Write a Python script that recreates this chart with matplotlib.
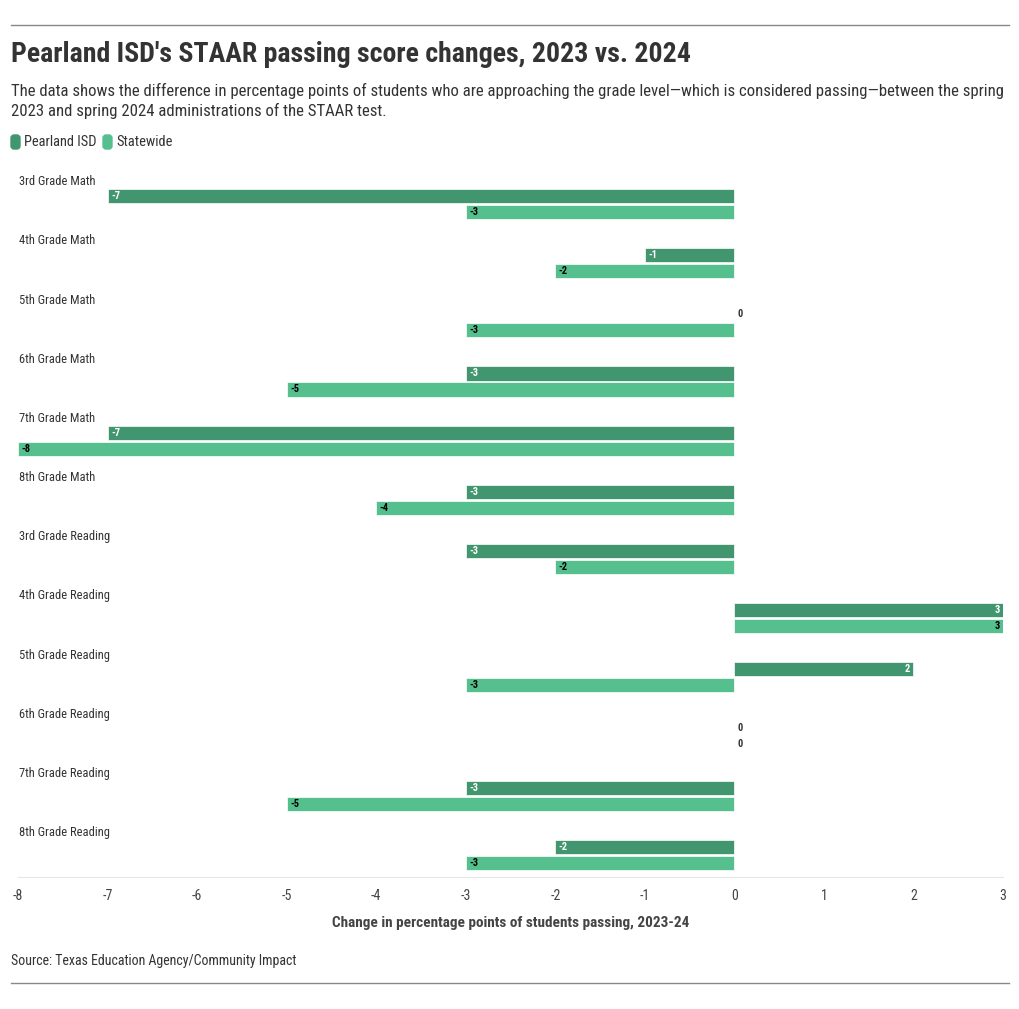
import matplotlib
matplotlib.use("Agg")
import matplotlib.pyplot as plt
from matplotlib import font_manager
from matplotlib.patches import FancyBboxPatch
import numpy as np

# ── Data ────────────────────────────────────────────────────────────────────────
categories = ["3rd Grade Math", "4th Grade Math", "5th Grade Math", "6th Grade Math",
              "7th Grade Math", "8th Grade Math", "3rd Grade Reading", "4th Grade Reading",
              "5th Grade Reading", "6th Grade Reading", "7th Grade Reading", "8th Grade Reading"]
pearland = [-7, -1, 0, -3, -7, -3, -3, 3, 2, 0, -3, -2]
statewide = [-3, -2, -3, -5, -8, -4, -2, 3, -3, 0, -5, -3]
x_ticks = [-8, -7, -6, -5, -4, -3, -2, -1, 0, 1, 2, 3]

DARK = "#41966f"
LIGHT = "#55c08e"
TXT = "#333333"

# ── Font pick ───────────────────────────────────────────────────────────────────
installed = {f.name for f in font_manager.fontManager.ttflist}
for cand in ["Roboto Condensed", "Liberation Sans Narrow", "Roboto"]:
    if cand in installed:
        FONT = cand
        break
else:
    FONT = "DejaVu Sans"
plt.rcParams["font.family"] = [FONT, "DejaVu Sans"]

fig = plt.figure(figsize=(10.2, 10.09), dpi=100)
W, H = 1020, 1009

def fy(py):
    return 1 - py / H

# rules
fig.add_artist(plt.Line2D([11 / W, 1009 / W], [fy(25), fy(25)], color="#888888", lw=1))
fig.add_artist(plt.Line2D([11 / W, 1009 / W], [fy(983), fy(983)], color="#888888", lw=1))

fig.text(11 / W, fy(55), "Pearland ISD's STAAR passing score changes, 2023 vs. 2024",
         fontsize=20.1, fontweight="bold", color=TXT, va="center", ha="left")
fig.text(11 / W, fy(101),
         "The data shows the difference in percentage points of students who are approaching the grade level\u2014which is considered passing\u2014between the spring\n2023 and spring 2024 administrations of the STAAR test.",
         fontsize=12.1, color=TXT, va="center", ha="left", linespacing=1.35)

# legend
for x0, label, col in [(11, "Pearland ISD", DARK), (103, "Statewide", LIGHT)]:
    fig.add_artist(FancyBboxPatch((x0 / W, fy(149)), 9 / W, 14 / H,
                                  boxstyle="round,pad=0,rounding_size=0.003",
                                  transform=fig.transFigure, color=col))
    fig.text((x0 + 13) / W, fy(142), label, fontsize=10.4, color=TXT, va="center", ha="left")

# ── Axes ────────────────────────────────────────────────────────────────────────
ax = fig.add_axes([18 / W, fy(877), (1003 - 18) / W, (877 - 167) / H])
n = len(categories)
y = np.arange(n)
h = 0.24
off1, off2 = 0.49, 0.76
ax.barh(y + off1, pearland, height=h, color=DARK, edgecolor="white", linewidth=0.5)
ax.barh(y + off2, statewide, height=h, color=LIGHT, edgecolor="white", linewidth=0.5)

for i in range(n):
    ax.text(0.001, i + 0.25, categories[i], transform=ax.get_yaxis_transform(),
            fontsize=9, color=TXT, va="center", ha="left")
    for vals, off, tcol in [(pearland, off1, "white"), (statewide, off2, "black")]:
        v = vals[i]
        if v < 0:
            ax.text(v + 0.04, i + off, str(v), fontsize=7.5, fontweight="bold",
                    color=tcol, va="center", ha="left")
        elif v > 0:
            ax.text(v - 0.04, i + off, str(v), fontsize=7.5, fontweight="bold",
                    color=tcol, va="center", ha="right")
        else:
            ax.text(0.04, i + off, "0", fontsize=7.5, fontweight="bold",
                    color=TXT, va="center", ha="left")

ax.set_xlim(-8, 3)
ax.set_ylim(n, 0)
ax.set_xticks(x_ticks)
ax.set_xticklabels([str(t) for t in x_ticks], fontsize=10, color="#444444")
ax.tick_params(axis="x", length=0, pad=9)
ax.set_yticks([])
for s in ["top", "right", "left"]:
    ax.spines[s].set_visible(False)
ax.spines["bottom"].set_color("#e6e6e6")

fig.text(511 / W, fy(923), "Change in percentage points of students passing, 2023-24",
         fontsize=11, fontweight="bold", color="#444444", va="center", ha="center")
fig.text(11 / W, fy(961), "Source: Texas Education Agency/Community Impact",
         fontsize=10, color=TXT, va="center", ha="left")

plt.savefig("out.png", dpi=100)
